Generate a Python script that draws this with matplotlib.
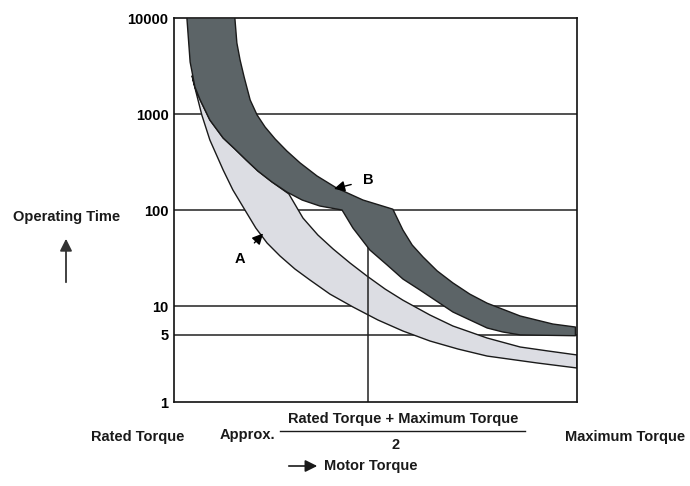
import matplotlib
matplotlib.use("Agg")
import matplotlib.pyplot as plt
from matplotlib.lines import Line2D
from matplotlib.patches import FancyArrowPatch

plt.rcParams['font.family'] = ['Liberation Sans', 'DejaVu Sans']

# ---- data (x: % of way from rated torque to maximum torque; y: operating time) ----
# Band B (dark): upper edge, top -> right
b_upper_x = [15.1, 15.6, 16.4, 17.4, 18.9, 20.6, 22.6, 25.1, 28.0, 31.3, 35.5, 40.4, 46.9, 54.3,
             56.8, 59.1, 61.8, 65.3, 69.2, 73.4, 77.7, 85.9, 94.0, 99.6]
b_upper_y = [10000, 5500, 3650, 2430, 1400, 980, 732, 549, 412, 309, 226, 169, 127, 102,
             61.9, 43.2, 32.4, 23.2, 17.4, 13.3, 10.7, 7.87, 6.49, 6.04]
# Band B lower edge, right -> top
b_lower_x = [99.6, 85.9, 81.6, 77.7, 69.2, 61.0, 56.8, 52.9, 48.6, 44.4, 41.7,
             36.2, 31.8, 28.0, 24.3, 20.8, 17.9, 15.1, 12.2, 8.9, 6.5, 5.2, 4.0, 3.2]
b_lower_y = [4.9, 5.0, 5.36, 5.9, 8.66, 14.7, 19.1, 26.7, 38.3, 64.9, 100,
             110, 127, 154, 196, 255, 332, 432, 562, 866, 1400, 1910, 3480, 10000]

# Band A (light): upper edge, top -> right
a_upper_x = [4.5, 5.2, 6.5, 8.9, 12.2, 15.1, 17.9, 20.8, 24.3, 28.5,
             32.0, 35.7, 39.5, 43.7, 47.9, 52.4, 56.8, 63.5, 69.2, 77.7, 85.9, 92.8, 100]
a_upper_y = [2500, 1910, 1400, 866, 562, 432, 332, 255, 196, 147,
             82.5, 54.9, 39.2, 28.0, 20.5, 15.0, 11.5, 8.06, 6.19, 4.64, 3.74, 3.40, 3.09]
# Band A lower edge, right -> top
a_lower_x = [100, 90.1, 77.7, 70.5, 63.5, 56.8, 50.6, 44.4, 38.7, 33.7, 30.0, 26.3,
             23.1, 20.3, 17.6, 14.6, 12.2, 8.9, 6.9, 5.96, 4.7, 4.5]
a_lower_y = [2.26, 2.55, 3.01, 3.56, 4.32, 5.49, 7.15, 9.77, 13.3, 18.7, 24.3, 33.2,
             45.3, 64.9, 100, 162, 261, 536, 977, 1400, 2260, 2500]

grid_levels = [1000, 100, 10, 5]
ytick_vals = [1, 5, 10, 100, 1000, 10000]
ytick_labels = ['1', '5', '10', '100', '1000', '10000']
mid_x = 48.1          # approx. (rated + maximum) / 2
mid_top = 100

W, H = 690, 486
fig = plt.figure(figsize=(W / 100, H / 100), dpi=100)
ax = fig.add_axes([174 / W, 1 - 402 / H, (577 - 174) / W, (402 - 18) / H])
ax.set_yscale('log')
ax.set_xlim(0, 100)
ax.set_ylim(1, 10000)

dark = '#5c6467'
light = '#dcdde3'

for lv in grid_levels:
    ax.axhline(lv, color='#222222', lw=1.1, zorder=1)

ax.fill(a_upper_x + a_lower_x, a_upper_y + a_lower_y, facecolor=light,
        edgecolor='#1a1a1a', lw=1.0, zorder=2, joinstyle='round')
ax.plot([mid_x, mid_x], [1, mid_top], color='#222222', lw=1.1, zorder=2.5)
ax.fill(b_upper_x + b_lower_x, b_upper_y + b_lower_y, facecolor=dark,
        edgecolor='#1a1a1a', lw=1.0, zorder=3, joinstyle='round')

ax.set_xticks([])
ax.set_yticks(ytick_vals)
ax.set_yticklabels(ytick_labels)
ax.minorticks_off()
ax.tick_params(axis='y', length=0, pad=4, labelsize=10.5)
for lab in ax.get_yticklabels():
    lab.set_fontweight('bold')
for s in ax.spines.values():
    s.set_linewidth(1.2)
    s.set_color('#111111')

# A / B labels with arrows
ax.annotate('B', xy=(39.7, 166), xytext=(48.3, 205), fontsize=10.5, fontweight='bold',
            ha='center', va='center',
            arrowprops=dict(arrowstyle='-|>', color='black', lw=1.0, mutation_scale=16,
                            shrinkA=7, shrinkB=0))
ax.annotate('A', xy=(22.1, 57), xytext=(16.3, 31), fontsize=10.5, fontweight='bold',
            ha='center', va='center',
            arrowprops=dict(arrowstyle='-|>', color='black', lw=1.0, mutation_scale=16,
                            shrinkA=7, shrinkB=0))

def fx(px):
    return px / W

def fy(py):
    return 1 - py / H

txt = dict(fontsize=10.5, fontweight='bold', color='#1a1a1a')
fig.text(fx(67), fy(217), 'Operating Time', ha='center', va='center', **txt)
fig.add_artist(FancyArrowPatch(
    (fx(66), fy(285)), (fx(66), fy(236)), transform=fig.transFigure,
    arrowstyle='-|>', mutation_scale=18, color='#333333', lw=1.3))

fig.text(fx(138), fy(437), 'Rated Torque', ha='center', va='center', **txt)
fig.text(fx(625), fy(437), 'Maximum Torque', ha='center', va='center', **txt)
fig.text(fx(247), fy(435), 'Approx.', ha='center', va='center', **txt)
fig.text(fx(403), fy(419), 'Rated Torque + Maximum Torque', ha='center', va='center', **txt)
fig.add_artist(Line2D([fx(280), fx(525)], [fy(431), fy(431)], transform=fig.transFigure,
                      color='#1a1a1a', lw=1.0))
fig.text(fx(396), fy(445), '2', ha='center', va='center', **txt)

fig.add_artist(FancyArrowPatch(
    (fx(286), fy(466)), (fx(320), fy(466)), transform=fig.transFigure,
    arrowstyle='-|>', mutation_scale=18, color='#1a1a1a', lw=1.2))
fig.text(fx(324), fy(466), 'Motor Torque', ha='left', va='center', **txt)

fig.savefig('out.png', dpi=100)
